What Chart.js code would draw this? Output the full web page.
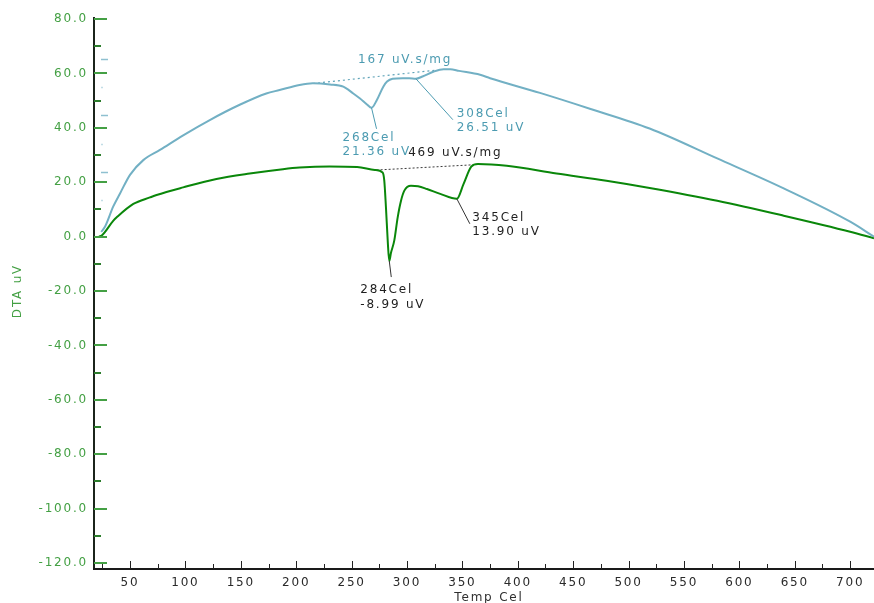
<!DOCTYPE html>
<html>
<head>
<meta charset="utf-8">
<title>DTA</title>
<script src="https://cdn.jsdelivr.net/npm/chart.js@4.4.1/dist/chart.umd.min.js"></script>
<style>
  html, body { margin: 0; padding: 0; background: #ffffff; }
  #wrap { width: 874px; height: 603px; }
</style>
</head>
<body>
<div id="wrap"><canvas id="c" width="874" height="603"></canvas></div>
<script>
// ---- axis ticks ----
const tempTicks = [50, 100, 150, 200, 250, 300, 350, 400, 450, 500, 550, 600, 650, 700];
const dtaTicks = [-120, -100, -80, -60, -40, -20, 0, 20, 40, 60, 80];
const secondTicks = [10, 20, 30];

// ---- run A (green, left DTA scale) ----
const runATemp = [22, 24.5, 35, 38, 53, 68, 74, 98, 128, 158, 188, 203, 230, 255, 271, 278,
  279.5, 281, 282.6, 284, 285.5, 288.5, 291.6, 294.6, 297.6, 303.6, 310, 318, 330, 345,
  351, 358, 364, 390, 435, 480, 519, 580, 640, 700, 721.5];
const runADta = [0, 0.4, 5.9, 7.1, 12.0, 14.4, 15.3, 18.1, 21.2, 23.2, 24.8, 25.4, 25.8, 25.6, 24.5, 23.6,
  20.6, 10.8, -1.5, -8.99, -6, -1.5, 7.1, 13.2, 16.9, 18.7, 18.5, 17.5, 15.7, 13.9,
  19.3, 25.7, 26.7, 26.05, 23.2, 20.55, 17.9, 13.2, 7.7, 1.8, -0.6];

// ---- run B (blue, second DTA scale) ----
const runBTemp = [24, 27.4, 34.9, 41, 50, 62, 77, 98, 122, 149, 173, 185, 203, 215, 230.5, 242.5,
  251.5, 257.6, 263.6, 268, 272.7, 278.6, 282, 287, 296, 302, 308, 314, 323.7, 333, 339,
  347, 366, 375, 420, 465, 519, 580, 640, 700, 721.5];
const runBDta = [-0.6, 0.3, 3.9, 6.2, 9.5, 12.1, 13.9, 16.5, 19.2, 21.9, 23.9, 24.5, 25.4, 25.7, 25.5, 25.1,
  23.9, 23.0, 22.0, 21.36, 22.7, 25.1, 26.0, 26.5, 26.6, 26.6, 26.51, 26.9, 27.75, 28.2, 28.2,
  27.9, 27.2, 26.6, 24.0, 21.2, 17.7, 12.4, 7.1, 1.2, -1.45];

// ---- integration baselines and areas ----
const runBBaseTemp = [215.2, 327.1];
const runBBaseDta = [25.66, 28.05];
const runABaseTemp = [272.6, 359.8];
const runABaseDta = [24.48, 26.4];
const areaValues = [167, 469];          // uV.s/mg : [run B, run A]

// ---- marked peaks ----
const peakSeries = ['B', 'B', 'A', 'A'];
const peakTemps = [268, 308, 284, 345];
const peakValues = [21.36, 26.51, -8.99, 13.90];

const toXY = (xs, ys) => xs.map((t, i) => ({ x: t, y: ys[i] }));

const FONT = '12px "DejaVu Sans"';
const GREEN_LINE = '#0a870a';
const BLUE_LINE = '#72b0c4';
const BLUE_TEXT = '#4c9bb1';
const DARK_TEXT = '#1e1e1e';
const AXIS_GREEN = '#44a044';

// label placement around each marked peak (dx, dy of text block; leader end)
const peakLayout = [
  { tx: -29, ty: 30, lx: 5, ly: 21 },
  { tx: 41, ty: 35, lx: 37, ly: 41 },
  { tx: -29, ty: 29, lx: 2, ly: 16 },
  { tx: 15.5, ty: 19, lx: 13, ly: 25 }
];

const decor = {
  id: 'decor',
  beforeDraw(chart) {
    chart.ctx.letterSpacing = '1.8px';
  },
  afterDatasetsDraw(chart) {
    const { ctx, chartArea: a, scales } = chart;
    const x = scales.x, y = scales.y, y2 = scales.y2;
    const seg = (x1, y1, x2, y2_, color, w) => {
      ctx.beginPath();
      ctx.strokeStyle = color;
      ctx.lineWidth = w;
      ctx.moveTo(x1, y1);
      ctx.lineTo(x2, y2_);
      ctx.stroke();
    };
    ctx.save();
    ctx.setLineDash([]);

    // left axis line and inward ticks
    seg(a.left, y.getPixelForValue(80) - 2, a.left, a.bottom + 1, '#1b241b', 2);
    dtaTicks.forEach((v, i) => {
      const py = Math.round(y.getPixelForValue(v));
      seg(a.left, py, a.left + 13, py, AXIS_GREEN, 2);
      if (i < dtaTicks.length - 1) {
        const m = Math.round(y.getPixelForValue(v + 10));
        seg(a.left, m, a.left + 7, m, '#2c7d2c', 2);
      }
    });

    // second scale marks
    secondTicks.forEach(v => {
      const py = Math.round(y2.getPixelForValue(v)) + 0.5;
      seg(a.left + 7, py, a.left + 14, py, '#8fc0d0', 1.5);
      const m = Math.round(y2.getPixelForValue(v - 5)) + 0.5;
      seg(a.left + 7, m, a.left + 9, m, '#c2dde6', 1.5);
    });

    // bottom axis line and ticks
    seg(a.left - 1, a.bottom, a.right, a.bottom, '#1a1a1a', 2);
    tempTicks.forEach(v => {
      const px = Math.round(x.getPixelForValue(v)) + 0.5;
      seg(px, a.bottom, px, a.bottom - 8, '#222', 1);
      const m = Math.round(x.getPixelForValue(v - 25)) + 0.5;
      if (m > a.left) seg(m, a.bottom, m, a.bottom - 5, '#222', 1);
    });
    const last = Math.round(x.getPixelForValue(725)) + 0.5;
    if (last < a.right) seg(last, a.bottom, last, a.bottom - 5, '#222', 1);

    // peak markers
    ctx.font = FONT;
    ctx.textAlign = 'left';
    ctx.textBaseline = 'middle';
    peakTemps.forEach((t, i) => {
      const scale = peakSeries[i] === 'A' ? y : y2;
      const color = peakSeries[i] === 'A' ? DARK_TEXT : BLUE_TEXT;
      const px = x.getPixelForValue(t);
      const py = scale.getPixelForValue(peakValues[i]);
      const L = peakLayout[i];
      seg(px, py, px + L.lx, py + L.ly, peakSeries[i] === 'A' ? '#333' : BLUE_TEXT, 1);
      ctx.fillStyle = color;
      ctx.fillText(t + 'Cel', px + L.tx, py + L.ty);
      ctx.fillText(peakValues[i].toFixed(2) + ' uV', px + L.tx, py + L.ty + 14.5);
    });

    // integrated areas
    const bx = x.getPixelForValue(runBBaseTemp[0]);
    const by = y2.getPixelForValue(runBBaseDta[0]);
    ctx.fillStyle = BLUE_TEXT;
    ctx.fillText(areaValues[0] + ' uV.s/mg', bx + 45, by - 23.5);
    const gx = x.getPixelForValue(runABaseTemp[0]);
    const gy = y.getPixelForValue(runABaseDta[0]);
    ctx.fillStyle = DARK_TEXT;
    ctx.fillText(areaValues[1] + ' uV.s/mg', gx + 31.5, gy - 17);

    // axis titles
    ctx.fillStyle = '#2f2f2f';
    ctx.textAlign = 'center';
    ctx.fillText('Temp Cel', (a.left + a.right) / 2 + 5, 598);
    ctx.save();
    ctx.translate(17.5, y.getPixelForValue(-20));
    ctx.rotate(-Math.PI / 2);
    ctx.fillStyle = AXIS_GREEN;
    ctx.fillText('DTA uV', 0, 0);
    ctx.restore();

    ctx.restore();
  }
};

new Chart(document.getElementById('c'), {
  type: 'line',
  data: {
    datasets: [
      {
        label: 'run B',
        data: toXY(runBTemp, runBDta),
        yAxisID: 'y2',
        borderColor: BLUE_LINE,
        borderWidth: 2,
        pointRadius: 0,
        cubicInterpolationMode: 'monotone'
      },
      {
        label: 'run A',
        data: toXY(runATemp, runADta),
        yAxisID: 'y',
        borderColor: GREEN_LINE,
        borderWidth: 2,
        pointRadius: 0,
        cubicInterpolationMode: 'monotone'
      },
      {
        label: 'run B baseline',
        data: toXY(runBBaseTemp, runBBaseDta),
        yAxisID: 'y2',
        borderColor: '#5fa3b8',
        borderWidth: 1.2,
        borderDash: [2, 3],
        pointRadius: 0
      },
      {
        label: 'run A baseline',
        data: toXY(runABaseTemp, runABaseDta),
        yAxisID: 'y',
        borderColor: '#3a3a3a',
        borderWidth: 1,
        borderDash: [2, 2],
        pointRadius: 0
      }
    ]
  },
  options: {
    responsive: false,
    animation: false,
    devicePixelRatio: 1,
    layout: { padding: { top: 19, right: 0, left: 0, bottom: 0 } },
    plugins: { legend: { display: false }, tooltip: { enabled: false } },
    scales: {
      x: {
        type: 'linear',
        min: 17.5,
        max: 721.5,
        grid: { display: false, drawTicks: false },
        border: { display: false },
        afterBuildTicks: s => { s.ticks = tempTicks.map(v => ({ value: v })); },
        afterFit: s => { s.height = 34; s.paddingLeft = 0; s.paddingRight = 0; },
        ticks: {
          padding: 7,
          autoSkip: false,
          maxRotation: 0,
          color: '#2a2a2a',
          font: { family: 'DejaVu Sans', size: 12 },
          callback: v => String(v)
        }
      },
      y: {
        type: 'linear',
        position: 'left',
        min: -122.2,
        max: 80,
        grid: { display: false, drawTicks: false },
        border: { display: false },
        afterBuildTicks: s => { s.ticks = dtaTicks.map(v => ({ value: v })); },
        afterFit: s => { s.width = 94; s.paddingTop = 0; s.paddingBottom = 0; },
        ticks: {
          padding: 6,
          color: AXIS_GREEN,
          font: { family: 'DejaVu Sans', size: 12 },
          callback: v => Number(v).toFixed(1)
        }
      },
      y2: {
        type: 'linear',
        display: false,
        min: -60.27,
        max: 37.08
      }
    }
  },
  plugins: [decor]
});
</script>
</body>
</html>
